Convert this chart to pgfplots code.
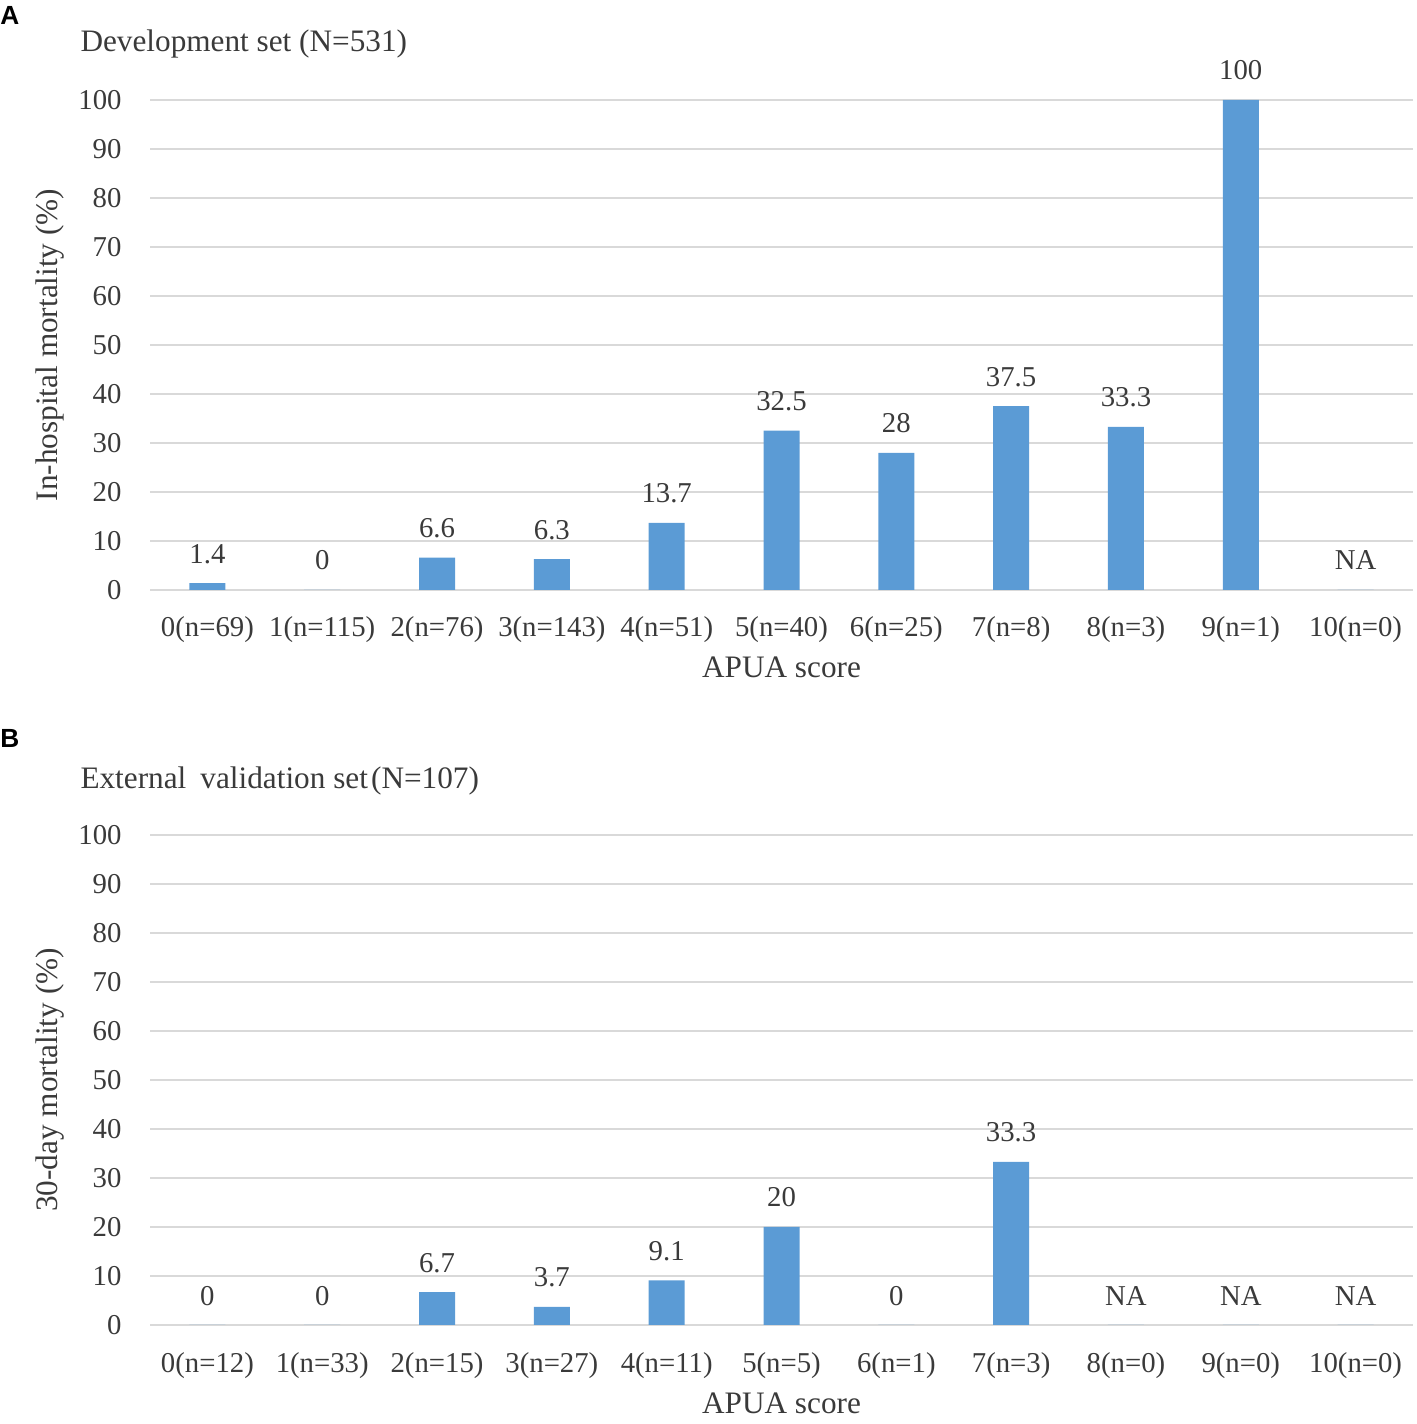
\documentclass[border=0pt]{standalone}
\usepackage{fontspec}
\setmainfont{Liberation Serif}
\newfontfamily\panelfont{Liberation Sans}
\usepackage{pgfplots}
\pgfplotsset{compat=1.18}
\usepackage{pgfplotstable}
\definecolor{barblue}{HTML}{5B9BD5}
\definecolor{gridgray}{HTML}{D9D9D9}
\definecolor{textgray}{HTML}{3A3A3A}

\pgfplotstableread{
x y label
0 1.4 1.4
1 0 0
2 6.6 6.6
3 6.3 6.3
4 13.7 13.7
5 32.5 32.5
6 28 28
7 37.5 37.5
8 33.3 33.3
9 100 100
10 0 NA
}\devtable

\pgfplotstableread{
x y label
0 0 0
1 0 0
2 6.7 6.7
3 3.7 3.7
4 9.1 9.1
5 20 20
6 0 0
7 33.3 33.3
8 0 NA
9 0 NA
10 0 NA
}\valtable

\pgfplotsset{
  apua/.style={
    scale only axis, width=505.2pt, height=196pt,
    anchor=south west,
    xmin=-0.5, xmax=10.5, ymin=0, ymax=100,
    ytick={0,10,...,100},
    xtick={0,...,10},
    axis line style={draw=none},
    major tick length=0pt,
    tick style={draw=none},
    ymajorgrids,
    grid style={draw=gridgray, line width=0.8pt},
    clip=false,
    every axis title shift=0pt,
    /pgf/number format/assume math mode=true,
    yticklabel style={font=\fontsize{11.5pt}{13pt}\selectfont, text=textgray, anchor=east, inner sep=0pt, xshift=-11.2pt},
    xticklabel style={font=\fontsize{11.5pt}{13pt}\selectfont, text=textgray, anchor=base, inner sep=0pt, yshift=-18.8pt},
    xlabel style={font=\fontsize{12.5pt}{14pt}\selectfont, text=textgray, at={(axis description cs:0.5,-0.1796)}, anchor=base, inner sep=0pt},
    ylabel style={font=\fontsize{12.5pt}{14pt}\selectfont, text=textgray, at={(axis description cs:-0.0792,0.5)}, anchor=center, inner sep=0pt},
    xlabel={APUA score},
    nodes near coords,
    point meta=explicit symbolic,
    every node near coord/.append style={font=\fontsize{11.5pt}{13pt}\selectfont, text=textgray, anchor=base, inner sep=0pt, yshift=8pt},
  }
}

\begin{document}
\begin{tikzpicture}
\useasboundingbox (0,0) rectangle (566.8pt,569.6pt);
\node[anchor=base west, inner sep=0pt, font=\panelfont\bfseries\fontsize{10.5pt}{12pt}\selectfont] at (0pt,559.6pt) {A};
\node[anchor=base west, inner sep=0pt, font=\panelfont\bfseries\fontsize{10.5pt}{12pt}\selectfont] at (0pt,270.4pt) {B};

\begin{axis}[apua, at={(60pt,333.6pt)},
  ylabel={In-hospital mortality (\%)},
  title={Development set (N=531)},
  title style={font=\fontsize{12.5pt}{14pt}\selectfont, text=textgray, at={(axis description cs:-0.0554,1.098)}, anchor=base west, inner sep=0pt},
  xticklabels={{0(n=69)},{1(n=115)},{2(n=76)},{3(n=143)},{4(n=51)},{5(n=40)},{6(n=25)},{7(n=8)},{8(n=3)},{9(n=1)},{10(n=0)}},
]
\addplot[ybar, bar width=14.4pt, fill=barblue, draw=none] table[x=x, y=y, meta=label] {\devtable};
\end{axis}

\begin{axis}[apua, at={(60pt,39.6pt)},
  ylabel={30-day mortality (\%)},
  title={External\hspace{0.45em}validation set\hspace{0.1em}(N=107)},
  title style={font=\fontsize{12.5pt}{14pt}\selectfont, text=textgray, at={(axis description cs:-0.0554,1.094)}, anchor=base west, inner sep=0pt},
  xticklabels={{0(n=12)},{1(n=33)},{2(n=15)},{3(n=27)},{4(n=11)},{5(n=5)},{6(n=1)},{7(n=3)},{8(n=0)},{9(n=0)},{10(n=0)}},
]
\addplot[ybar, bar width=14.4pt, fill=barblue, draw=none] table[x=x, y=y, meta=label] {\valtable};
\end{axis}
\end{tikzpicture}
\end{document}
